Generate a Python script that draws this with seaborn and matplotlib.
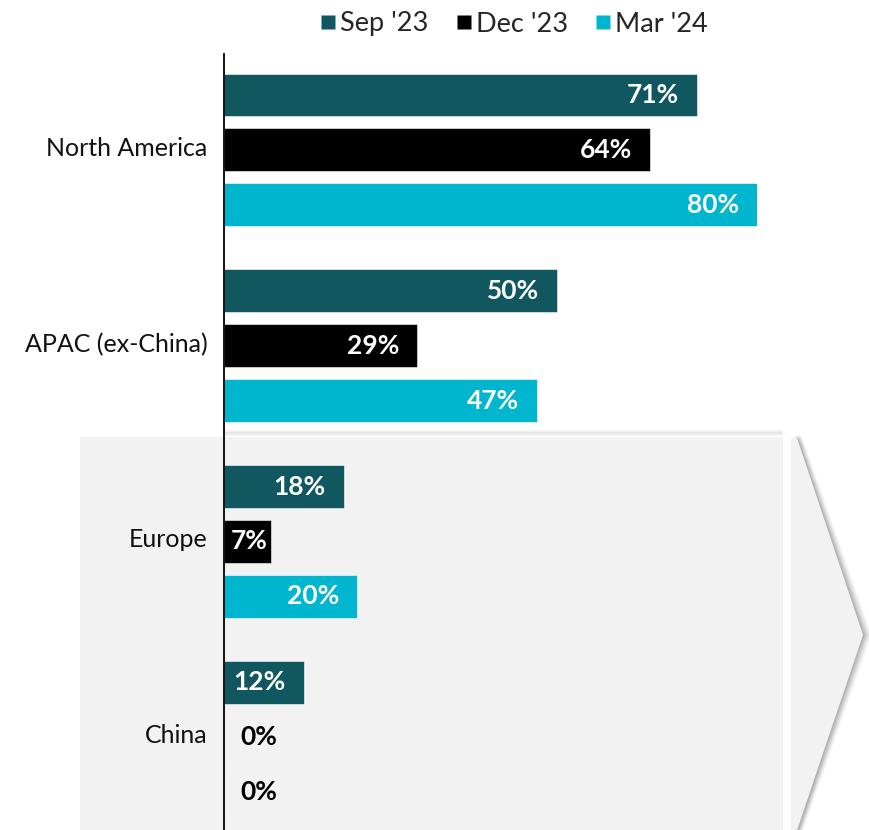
import matplotlib
matplotlib.use("Agg")
import matplotlib.pyplot as plt
from matplotlib.patches import Rectangle, Polygon
from matplotlib.lines import Line2D
from matplotlib.transforms import ScaledTranslation
import numpy as np
import pandas as pd
import seaborn as sns

regions = ["North America", "APAC (ex-China)", "Europe", "China"]
periods = ["Sep '23", "Dec '23", "Mar '24"]
sep_23 = [71, 50, 18, 12]
dec_23 = [64, 29, 7, 0]
mar_24 = [80, 47, 20, 0]
palette = ["#11575F", "#000000", "#00B6CF"]

df = pd.DataFrame({
    "region": regions * 3,
    "period": [p for p in periods for _ in regions],
    "share": sep_23 + dec_23 + mar_24,
})

sns.set_theme(style="white")
plt.rcParams["font.family"] = ["Lato", "DejaVu Sans"]

W, H = 869, 830
fig = plt.figure(figsize=(W / 100, H / 100), dpi=100)


def fx(x):
    return x / W


def fy(y):
    return 1 - y / H


# shaded panel behind the lower two regions, with a soft top shadow
for i, a in enumerate([0.010, 0.018, 0.028, 0.040]):
    fig.patches.append(Rectangle((fx(225), fy(437 - 4 + i)), fx(783) - fx(225), 4 / H,
                                 transform=fig.transFigure, facecolor="#000000",
                                 alpha=a, edgecolor="none", zorder=0))
fig.patches.append(Rectangle((fx(80), 0), fx(783) - fx(80), fy(437),
                             transform=fig.transFigure, facecolor="#F2F2F2",
                             edgecolor="none", zorder=0.5))

# chevron pointing right, with a blurred edge shadow
chev = [(791, 438), (797, 438), (863, 635), (797, 830), (791, 830)]
for k, a in zip(range(7, 0, -1), [0.04, 0.07, 0.10, 0.13, 0.16, 0.20, 0.24]):
    sh = [(fx(798), fy(440)), (fx(863 + k * 0.5), fy(635)), (fx(798), fy(830))]
    fig.lines.append(Line2D([p[0] for p in sh], [p[1] for p in sh],
                            transform=fig.transFigure, color="#8C8C8C",
                            alpha=a, lw=k * 1.1, zorder=0.6,
                            solid_joinstyle="miter"))
fig.patches.append(Polygon([(fx(x), fy(y)) for x, y in chev], closed=True,
                           transform=fig.transFigure, facecolor="#F2F2F2",
                           edgecolor="none", zorder=0.7))

ax = fig.add_axes([fx(224), 0, fx(757) - fx(224), fy(54)])
ax.set_facecolor("none")
ax.set_zorder(2)

sns.barplot(data=df, y="region", x="share", hue="period", order=regions,
            hue_order=periods, palette=palette, orient="h", width=0.842,
            gap=0.22, saturation=1, legend=False, ax=ax,
            edgecolor="#FFFFFF", linewidth=0.4)

ax.set_xlim(0, 80)
ax.set_ylim(3.474, -0.49)
ax.set_xlabel("")
ax.set_ylabel("")
ax.set_xticks([])
ax.tick_params(axis="y", length=0, pad=12, labelsize=18, labelcolor="#111111")
lift = ScaledTranslation(0, 2.5 / 72, fig.dpi_scale_trans)
for lbl in ax.get_yticklabels():
    lbl.set_transform(lbl.get_transform() + lift)
for s in ["top", "right", "bottom"]:
    ax.spines[s].set_visible(False)
ax.spines["left"].set_color("#000000")
ax.spines["left"].set_linewidth(1.3)

# value labels at the inner end of each bar
for cont in ax.containers:
    for bar in cont:
        v = bar.get_width()
        yc = bar.get_y() + bar.get_height() / 2
        txt = f"{v:.0f}%"
        if v == 0:
            ax.annotate(txt, (0, yc), xytext=(12, 0), textcoords="offset points",
                        ha="left", va="center", fontsize=19, fontweight="bold",
                        color="#000000")
        elif v < 10:
            ax.annotate(txt, (0, yc), xytext=(5, 0), textcoords="offset points",
                        ha="left", va="center", fontsize=19, fontweight="bold",
                        color="#FFFFFF")
        else:
            ax.annotate(txt, (v, yc), xytext=(-13, 0), textcoords="offset points",
                        ha="right", va="center", fontsize=19, fontweight="bold",
                        color="#FFFFFF")

handles = [Line2D([], [], marker="s", linestyle="none", markersize=9.5,
                  markerfacecolor=c, markeredgecolor="none") for c in palette]
fig.legend(handles, periods, loc="center", bbox_to_anchor=(fx(514), fy(24)),
           ncol=3, frameon=False, fontsize=19.5, handlelength=0.6,
           handletextpad=0.15, columnspacing=1.0, borderpad=0)

fig.savefig("out.png", dpi=100)
